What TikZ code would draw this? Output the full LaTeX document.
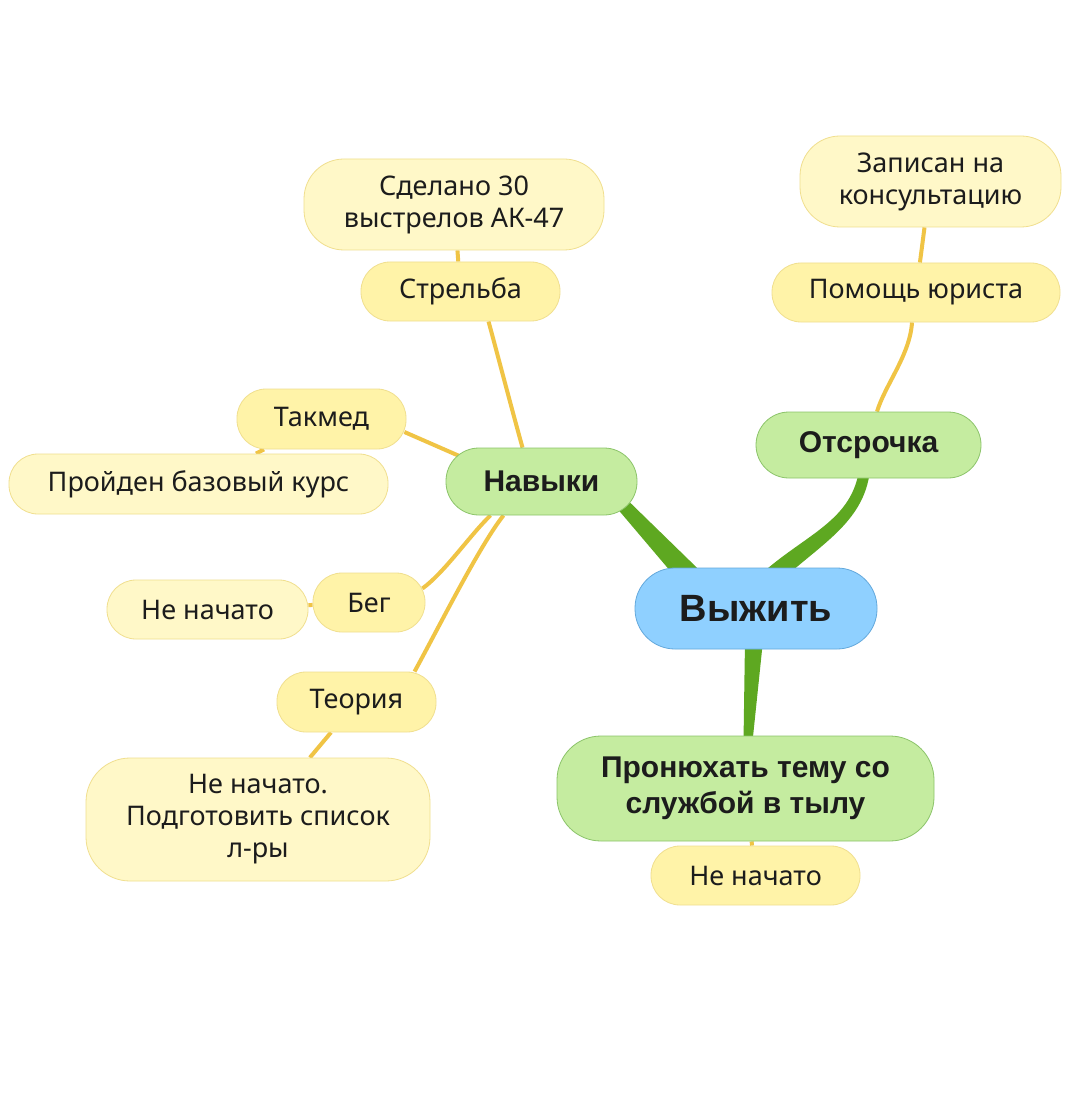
\documentclass[tikz,border=0pt]{standalone}
\usepackage{fontspec}
\setmainfont{Noto Sans}
\newfontfamily\heavyfont{Liberation Sans}
\usetikzlibrary{calc}
\pgfdeclarelayer{background}
\pgfsetlayers{background,main}
\definecolor{notefill}{HTML}{FFF8C8}
\definecolor{leaffill}{HTML}{FFF3A8}
\definecolor{leafline}{HTML}{F0DF8F}
\definecolor{topicfill}{HTML}{C5ECA0}
\definecolor{topicline}{HTML}{8CC46A}
\definecolor{mainfill}{HTML}{8FD0FF}
\definecolor{mainline}{HTML}{64A9DC}
\definecolor{stemc}{HTML}{5EA821}
\definecolor{twigc}{HTML}{F0C445}
\definecolor{ink}{HTML}{1C1C1C}

\tikzset{
  box/.style={draw, rounded corners=14.5pt, inner sep=0pt, align=center, text=ink,
    font=\fontsize{13.5}{16}\selectfont},
  leaf/.style={box, fill=leaffill, draw=leafline},
  note/.style={box, fill=notefill, draw=leafline},
  topic/.style={box, fill=topicfill, draw=topicline, rounded corners=16.5pt,
    font=\heavyfont\bfseries\fontsize{15}{18}\selectfont},
  mainbox/.style={box, fill=mainfill, draw=mainline, rounded corners=20pt,
    font=\heavyfont\bfseries\fontsize{19}{22}\selectfont},
  twig/.style={draw=twigc, line width=2pt},
  stem/.style={fill=stemc}
}

\begin{document}
\begin{tikzpicture}[x=0.5pt,y=-0.5pt]
  \useasboundingbox (0,0) rectangle (1080,1117);
  % center and main topics
  \node[mainbox, minimum width=121pt, minimum height=40.5pt] (vyzhit) at (756,608.5) {Выжить};
  \node[topic, minimum width=95.5pt, minimum height=33.5pt] (navyki) at (541.5,481.5) {Навыки};
  \node[topic, minimum width=112.5pt, minimum height=33pt] (otsrochka) at (868.5,445) {Отсрочка};
  \node[topic, minimum width=188.5pt, minimum height=52.5pt, rounded corners=22pt] (tyl) at (745.5,788.5) {Пронюхать тему со\\службой в тылу};
  % skills
  \node[leaf, minimum width=99.5pt, minimum height=29.5pt] (strelba) at (460.5,291.5) {Стрельба};
  \node[note, minimum width=150pt, minimum height=45.5pt, rounded corners=20pt] (sdelano) at (454,204.5) {Сделано 30\\выстрелов АК-47};
  \node[leaf, minimum width=84.5pt, minimum height=30pt] (takmed) at (321.5,419) {Такмед};
  \node[note, minimum width=189.5pt, minimum height=30pt] (proiden) at (198.5,484) {Пройден базовый курс};
  \node[leaf, minimum width=56pt, minimum height=29.5pt] (beg) at (369,602.5) {Бег};
  \node[note, minimum width=100.5pt, minimum height=29.5pt] (nenachato) at (207.5,609.5) {Не начато};
  \node[leaf, minimum width=79.5pt, minimum height=30pt] (teoria) at (356.5,702) {Теория};
  \node[note, minimum width=172pt, minimum height=61.5pt, rounded corners=22pt] (spisok) at (258,819.5) {Не начато.\\Подготовить список\\л-ры};
  % deferment
  \node[leaf, minimum width=144pt, minimum height=29.5pt] (yurist) at (916,292.5) {Помощь юриста};
  \node[note, minimum width=130.5pt, minimum height=45.5pt, rounded corners=20pt] (zapisan) at (930.5,181.5) {Записан на\\консультацию};
  % rear service
  \node[leaf, minimum width=104.5pt, minimum height=29.5pt] (tylnote) at (755.5,875.5) {Не начато};

  \begin{pgfonlayer}{background}
    \fill[white] (0,0) rectangle (1080,1117);
    \fill[stem] ($(vyzhit)+(-47,-29)$) -- ($(navyki)+(71,4)$) -- ($(navyki)+(63,12)$) -- ($(vyzhit)+(-65,-13)$) -- cycle;
    \fill[stem] ($(vyzhit)+(8,-37)$) .. controls (807,534) and (852,520) .. ($(otsrochka)+(-9.4,24.3)$)
      -- ($(otsrochka)+(1.4,25.7)$) .. controls (864,524) and (817,546) .. ($(vyzhit)+(20,-23)$) -- cycle;
    \fill[stem] ($(vyzhit)+(-11,32)$) -- ($(vyzhit)+(7,32)$) -- ($(tyl)+(7,-47)$) -- ($(tyl)+(-2,-47)$) -- cycle;

    \draw[twig] (sdelano) -- (strelba);
    \draw[twig] ($(strelba.south)+(28,0)$) .. controls (495,345) and (512,410) .. ($(navyki.north)+(-19,0)$);
    \draw[twig] ($(takmed.east)+(-2,13)$) -- ($(navyki.west)+(24,-21)$);
    \draw[twig] (takmed) -- (proiden);
    \draw[twig] ($(beg.east)+(-3,-14)$) .. controls (445,572) and (470,535) .. ($(navyki.south)+(-51,0)$);
    \draw[twig] (nenachato) -- (beg);
    \draw[twig] ($(teoria.north)+(58,0)$) .. controls (440,625) and (480,545) .. ($(navyki.south)+(-38,0)$);
    \draw[twig] (teoria) -- (spisok);
    \draw[twig] ($(otsrochka.north)+(8.5,0)$) .. controls (885,385) and (910,355) .. ($(yurist.south)+(-4,0)$);
    \draw[twig] (yurist) -- (zapisan);
    \draw[twig] (tyl) -- (tylnote);
  \end{pgfonlayer}
\end{tikzpicture}
\end{document}
